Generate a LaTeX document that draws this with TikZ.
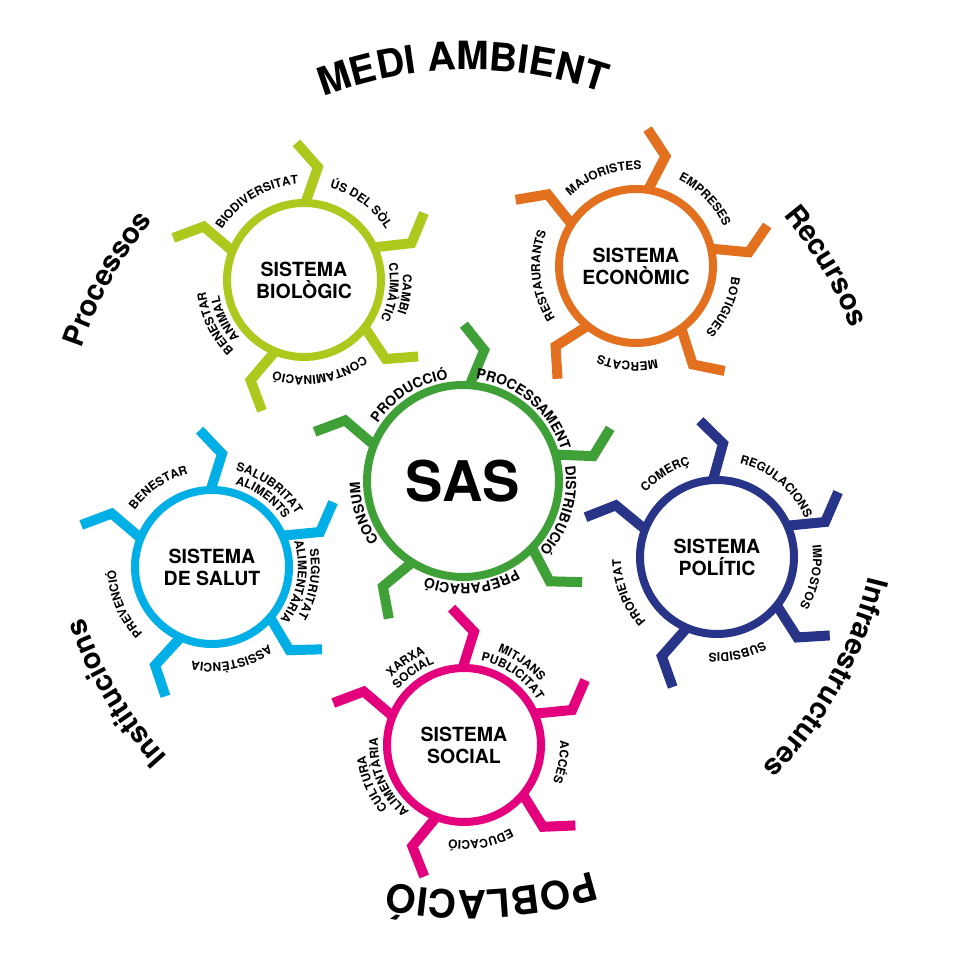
\documentclass[tikz,border=0pt]{standalone}
\usepackage{fontspec}
\setmainfont{TeX Gyre Heros}
\usetikzlibrary{decorations.text}

\definecolor{biolcol}{RGB}{175,200,30}
\definecolor{econcol}{RGB}{226,112,30}
\definecolor{sascol}{RGB}{62,160,55}
\definecolor{salutcol}{RGB}{0,175,230}
\definecolor{polcol}{RGB}{40,52,135}
\definecolor{socialcol}{RGB}{228,0,125}

\def\labfont{\bfseries\fontsize{12}{14}\selectfont}
\def\saslabfont{\bfseries\fontsize{14}{16}\selectfont}
\def\capfont{\bfseries\fontsize{39}{44}\selectfont}
\def\lowfont{\bfseries\fontsize{29}{33}\selectfont}

% spokes: centre, ring radius, colour, angles
\newcommand\spokes[4]{\foreach \a in {#4}
  \draw[spoke,#3,shift={(#1)},rotate=\a] (#2,0) -- ++(36,-12) -- ++(24,22);}
% text round a centre, clockwise: centre, angle, radius, font, text
\newcommand\arclabel[5]{\path[shift={(#1)},decorate,
  decoration={text along path,text align=center,text={|#4|#5}}]
  (#2+70:#3) arc[start angle=#2+70,end angle=#2-70,radius=#3pt];}

\begin{document}
\begin{tikzpicture}[x=1pt,y=1pt,
    ring/.style={line width=8pt},
    spoke/.style={line width=10pt,line join=miter},
    systxt/.style={align=center,font=\bfseries\fontsize{19.5}{22}\selectfont}]
			\fill[white] (0,0) rectangle (960,960);
			%%%%% START %%%%%
			\coordinate (mid) at (470,480);
			\coordinate (biol) at (304,680);
			\coordinate (econ) at (636,694);
			\coordinate (sas) at (463,479);
			\coordinate (salut) at (212,393);
			\coordinate (pol) at (717,403);
			\coordinate (soc) at (464,215);
			
			% sistema biologic
			\spokes{biol}{77}{biolcol}{89,25,-38,-112,158}
			\draw[ring,biolcol] (biol) circle[radius=77pt];
			\node[systxt] (biolname) at (biol) {SISTEMA\\BIOLÒGIC};
			\arclabel{biol}{121}{96}{\labfont}{BIODIVERSITAT}
			\arclabel{biol}{53}{96}{\labfont}{ÚS DEL SÒL}
			\arclabel{biol}{-8}{99}{\labfont}{CAMBI}
			\arclabel{biol}{-8}{86}{\labfont}{CLIMÀTIC}
			\arclabel{biol}{-80}{96}{\labfont}{CONTAMINACIÓ}
			\arclabel{biol}{206}{99}{\labfont}{BENESTAR}
			\arclabel{biol}{206}{86}{\labfont}{ANIMAL}
			
			% sistema economic
			\spokes{econ}{77}{econcol}{81,13,-54,-129,147}
			\draw[ring,econcol] (econ) circle[radius=77pt];
			\node[systxt] (econname) at (econ) {SISTEMA\\ECONÒMIC};
			\arclabel{econ}{110}{96}{\labfont}{MAJORISTES}
			\arclabel{econ}{44}{96}{\labfont}{EMPRESES}
			\arclabel{econ}{-25}{96}{\labfont}{BOTIGUES}
			\arclabel{econ}{-95}{96}{\labfont}{MERCATS}
			\arclabel{econ}{186}{96}{\labfont}{RESTAURANTS}
			
			% SAS
			\spokes{sas}{96}{sascol}{86,16,-44,-122,158}
			\draw[ring,sascol] (sas) circle[radius=96pt];
			\node[font=\bfseries\fontsize{56}{60}\selectfont] (sasname) at (sas) {SAS};
			\arclabel{sas}{122}{103}{\saslabfont}{PRODUCCIÓ}
			\arclabel{sas}{50}{103}{\saslabfont}{PROCESSAMENT}
			\arclabel{sas}{-17}{103}{\saslabfont}{DISTRIBUCIÓ}
			\arclabel{sas}{-85}{103}{\saslabfont}{PREPARACIÓ}
			\arclabel{sas}{198}{103}{\saslabfont}{CONSUM}
			
			% sistema de salut
			\spokes{salut}{77}{salutcol}{91,24,-41,-114,158}
			\draw[ring,salutcol] (salut) circle[radius=77pt];
			\node[systxt] (salutname) at (salut) {SISTEMA\\DE SALUT};
			\arclabel{salut}{124}{96}{\labfont}{BENESTAR}
			\arclabel{salut}{54}{99}{\labfont}{SALUBRITAT}
			\arclabel{salut}{54}{86}{\labfont}{ALIMENTS}
			\arclabel{salut}{-10}{99}{\labfont}{SEGURITAT}
			\arclabel{salut}{-10}{86}{\labfont}{ALIMENTÀRIA}
			\arclabel{salut}{-78}{96}{\labfont}{ASSISTÈNCIA}
			\arclabel{salut}{203}{96}{\labfont}{PREVENCIÓ}
			
			% sistema politic
			\spokes{pol}{77}{polcol}{93,24,-39,-113,159}
			\draw[ring,polcol] (pol) circle[radius=77pt];
			\node[systxt] (polname) at (pol) {SISTEMA\\POLÍTIC};
			\arclabel{pol}{122}{96}{\labfont}{COMERÇ}
			\arclabel{pol}{50}{96}{\labfont}{REGULACIONS}
			\arclabel{pol}{-12}{96}{\labfont}{IMPOSTOS}
			\arclabel{pol}{-78}{96}{\labfont}{SUBSIDIS}
			\arclabel{pol}{202}{96}{\labfont}{PROPIETAT}
			
			% sistema social
			\spokes{soc}{77}{socialcol}{91,24,-40,-111,158}
			\draw[ring,socialcol] (soc) circle[radius=77pt];
			\node[systxt] (socname) at (soc) {SISTEMA\\SOCIAL};
			\arclabel{soc}{125}{99}{\labfont}{XARXA}
			\arclabel{soc}{125}{86}{\labfont}{SOCIAL}
			\arclabel{soc}{55}{99}{\labfont}{MITJANS}
			\arclabel{soc}{55}{86}{\labfont}{PUBLICITAT}
			\arclabel{soc}{-10}{96}{\labfont}{ACCÉS}
			\arclabel{soc}{-80}{96}{\labfont}{EDUCACIÓ}
			\arclabel{soc}{203}{99}{\labfont}{CULTURA}
			\arclabel{soc}{203}{86}{\labfont}{ALIMENTÀRIA}
			
			% outer ring of words
			\arclabel{mid}{91}{410}{\capfont}{MEDI AMBIENT}
			\arclabel{mid}{31}{410}{\lowfont}{Recursos}
			\arclabel{mid}{-29}{410}{\lowfont}{Infraestructures}
			\arclabel{mid}{-87}{410}{\capfont}{POBLACIÓ}
			\arclabel{mid}{211}{410}{\lowfont}{Institucions}
			\arclabel{mid}{151}{410}{\lowfont}{Processos}
			%%%%% END %%%%%
\end{tikzpicture}
\end{document}
